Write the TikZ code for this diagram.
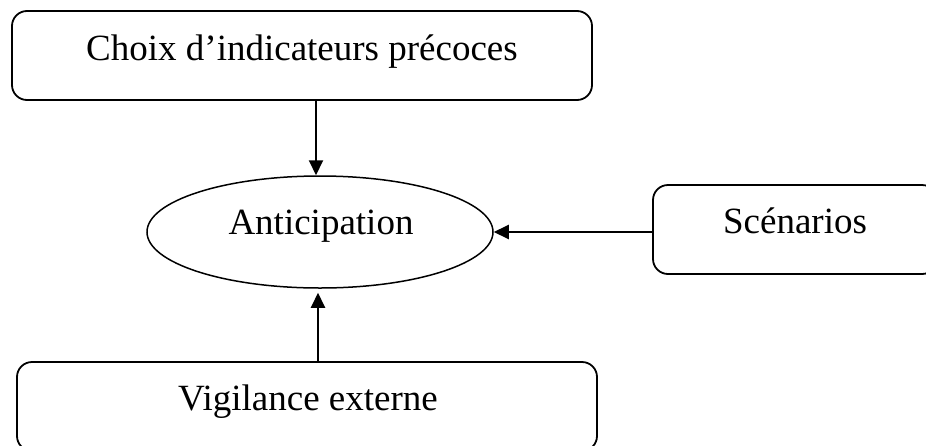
\documentclass[tikz,border=0pt]{standalone}
\usepackage{fontspec}
\setmainfont{Liberation Serif}
\usetikzlibrary{shapes.geometric,arrows.meta}
\begin{document}
\begin{tikzpicture}[x=1pt,y=-1pt,
  box/.style={draw, line width=1.8pt, rounded corners=15pt, minimum height=89pt, inner sep=0pt},
  oval/.style={draw, ellipse, line width=1.5pt, minimum width=346pt, minimum height=112pt, inner sep=0pt},
  lbl/.style={anchor=base, inner sep=0pt, font=\fontsize{37}{44}\selectfont},
  arr/.style={line width=2pt, -{Triangle[length=15pt,width=14pt]}}]
\useasboundingbox (0,0) rectangle (926,445);
\node[box, minimum width=580pt] (top) at (302,55.5) {};
\node[box, minimum width=284pt] (scen) at (795,229.5) {};
\node[box, minimum width=580pt] (bot) at (307,406.5) {};
\node[oval] (anti) at (320,232) {};
\node[lbl] (ttop) at (302,60) {Choix d’indicateurs précoces};
\node[lbl] (tscen) at (795,233) {Scénarios};
\node[lbl] (tbot) at (308,410) {Vigilance externe};
\node[lbl] (tanti) at (321,234) {Anticipation};
\draw[arr] ([xshift=-4pt]anti.north |- top.south) -- ([xshift=-4pt]anti.north);
\draw[arr] (scen.west |- anti.east) -- (anti.east);
\draw[arr] ([xshift=-2pt]anti.south |- bot.north) -- ([xshift=-2pt,yshift=-4pt]anti.south);
\end{tikzpicture}
\end{document}
